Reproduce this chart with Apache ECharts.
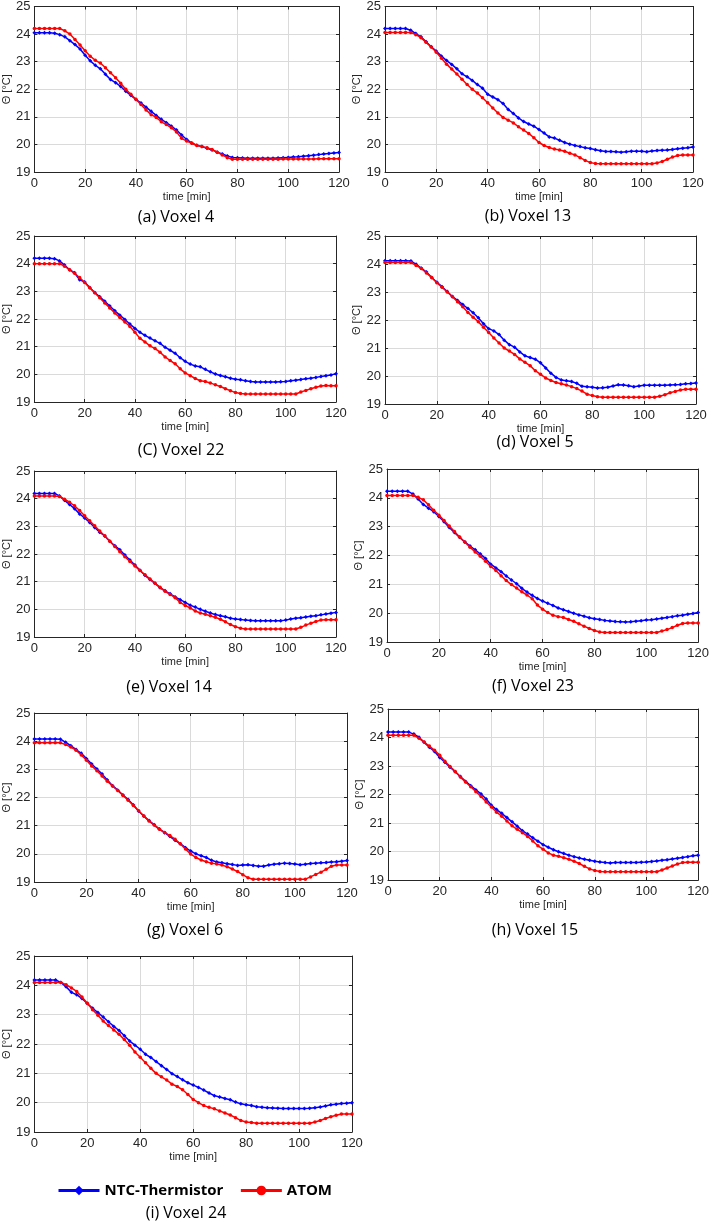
<!DOCTYPE html>
<html><head><meta charset="utf-8">
<script src="https://cdn.jsdelivr.net/npm/echarts@6/dist/echarts.min.js"></script>
<style>html,body{margin:0;padding:0;background:#fff}#c{width:712px;height:1222px}</style>
</head><body><div id="c"></div>
<script>
// ---------- DATA ----------
const time = [0,2,4,6,8,10,12,14,16,18,20,22,24,26,28,30,32,34,36,38,40,42,44,46,48,50,52,54,56,58,60,62,64,66,68,70,72,74,76,78,80,82,84,86,88,90,92,94,96,98,100,102,104,106,108,110,112,114,116,118,120];
const xTicks = [0,20,40,60,80,100,120];
const yTicks = [19,20,21,22,23,24,25];
const seriesNames = ['NTC-Thermistor','ATOM'];
const captions = ['(a) Voxel 4','(b) Voxel 13','(C) Voxel 22','(d) Voxel 5','(e) Voxel 14','(f) Voxel 23','(g) Voxel 6','(h) Voxel 15','(i) Voxel 24'];

const ntc_v4 = [24.05,24.05,24.05,24.05,24.03,23.98,23.90,23.76,23.62,23.46,
 23.23,23.03,22.87,22.74,22.54,22.35,22.24,22.10,21.93,21.78,
 21.63,21.50,21.35,21.20,21.05,20.91,20.79,20.66,20.52,20.34,
 20.18,20.05,19.97,19.92,19.86,19.80,19.72,19.65,19.58,19.53,
 19.52,19.51,19.50,19.50,19.50,19.50,19.50,19.50,19.51,19.52,
 19.53,19.54,19.55,19.57,19.59,19.61,19.63,19.65,19.67,19.69,19.71];
const atom_v4 = [24.20,24.20,24.20,24.20,24.20,24.20,24.12,24.00,23.80,23.60,
 23.40,23.20,23.05,22.95,22.78,22.60,22.42,22.22,22.00,21.82,
 21.64,21.45,21.25,21.08,20.98,20.82,20.72,20.60,20.45,20.22,
 20.12,20.04,19.96,19.92,19.88,19.82,19.72,19.62,19.52,19.46,
 19.46,19.46,19.46,19.46,19.46,19.46,19.46,19.46,19.46,19.47,
 19.47,19.47,19.47,19.47,19.47,19.47,19.48,19.48,19.48,19.48,19.48];

const ntc_v13 = [24.20,24.20,24.20,24.20,24.20,24.14,24.02,23.90,23.72,23.54,
 23.38,23.20,23.04,22.90,22.74,22.56,22.45,22.32,22.17,22.04,
 21.82,21.72,21.62,21.48,21.27,21.12,20.96,20.83,20.74,20.66,
 20.54,20.41,20.27,20.23,20.15,20.07,20.01,19.96,19.92,19.88,
 19.85,19.81,19.77,19.74,19.74,19.73,19.72,19.73,19.75,19.75,
 19.75,19.73,19.76,19.78,19.79,19.80,19.82,19.84,19.86,19.88,19.91];
const atom_v13 = [24.06,24.06,24.06,24.06,24.06,24.06,23.98,23.87,23.70,23.53,
 23.34,23.12,22.91,22.73,22.55,22.36,22.17,22.00,21.86,21.69,
 21.51,21.32,21.14,20.98,20.88,20.78,20.64,20.52,20.40,20.24,
 20.07,19.96,19.89,19.83,19.80,19.75,19.68,19.62,19.52,19.42,
 19.34,19.31,19.30,19.30,19.30,19.30,19.30,19.30,19.30,19.30,
 19.30,19.30,19.30,19.33,19.38,19.46,19.54,19.60,19.62,19.62,19.62];

const ntc_v22 = [24.20,24.20,24.20,24.20,24.18,24.10,23.95,23.78,23.67,23.42,
 23.34,23.14,22.96,22.80,22.64,22.47,22.30,22.14,21.98,21.82,
 21.66,21.52,21.41,21.31,21.21,21.12,20.98,20.87,20.76,20.60,
 20.47,20.37,20.30,20.27,20.18,20.09,20.01,19.96,19.91,19.86,
 19.82,19.80,19.77,19.74,19.72,19.72,19.72,19.72,19.72,19.73,
 19.74,19.77,19.79,19.81,19.84,19.86,19.89,19.92,19.95,19.98,20.02];
const atom_v22 = [24.00,24.00,24.00,24.00,24.00,24.00,23.91,23.78,23.65,23.50,
 23.32,23.13,22.95,22.77,22.58,22.40,22.22,22.05,21.89,21.73,
 21.52,21.30,21.17,21.03,20.93,20.80,20.63,20.50,20.38,20.20,
 20.05,19.95,19.85,19.77,19.74,19.69,19.62,19.56,19.48,19.41,
 19.34,19.31,19.29,19.29,19.29,19.29,19.29,19.29,19.29,19.29,
 19.29,19.29,19.29,19.36,19.42,19.48,19.53,19.58,19.60,19.59,19.59];

const ntc_v5 = [24.12,24.12,24.12,24.12,24.12,24.11,23.99,23.85,23.71,23.52,
 23.35,23.19,23.02,22.84,22.70,22.55,22.41,22.26,22.08,21.87,
 21.69,21.61,21.48,21.28,21.12,21.03,20.86,20.72,20.66,20.60,
 20.47,20.29,20.10,19.95,19.86,19.83,19.80,19.74,19.63,19.62,
 19.60,19.57,19.58,19.60,19.64,19.69,19.68,19.65,19.62,19.64,
 19.67,19.67,19.67,19.67,19.67,19.68,19.69,19.70,19.72,19.73,19.75];
const atom_v5 = [24.05,24.05,24.05,24.05,24.05,24.05,23.95,23.84,23.68,23.52,
 23.33,23.17,23.00,22.83,22.65,22.47,22.27,22.10,21.94,21.74,
 21.55,21.36,21.18,21.00,20.89,20.77,20.61,20.49,20.37,20.19,
 20.06,19.93,19.84,19.77,19.72,19.68,19.62,19.55,19.46,19.35,
 19.30,19.26,19.24,19.24,19.24,19.24,19.24,19.24,19.24,19.24,
 19.24,19.24,19.24,19.28,19.33,19.40,19.45,19.50,19.53,19.53,19.53];

const ntc_v14 = [24.19,24.19,24.19,24.19,24.19,24.10,23.94,23.79,23.64,23.45,
 23.30,23.14,22.96,22.79,22.65,22.46,22.30,22.15,21.96,21.78,
 21.60,21.41,21.23,21.08,20.94,20.78,20.67,20.56,20.45,20.35,
 20.25,20.15,20.08,20.00,19.93,19.87,19.81,19.77,19.73,19.68,
 19.65,19.63,19.61,19.60,19.59,19.59,19.59,19.59,19.59,19.59,
 19.61,19.65,19.68,19.70,19.72,19.75,19.77,19.80,19.83,19.86,19.89];
const atom_v14 = [24.10,24.10,24.10,24.10,24.10,24.08,23.98,23.87,23.74,23.57,
 23.38,23.20,23.02,22.83,22.66,22.46,22.27,22.08,21.90,21.73,
 21.57,21.40,21.25,21.10,20.94,20.80,20.65,20.54,20.42,20.25,
 20.14,20.05,19.94,19.87,19.82,19.77,19.71,19.64,19.55,19.45,
 19.37,19.32,19.29,19.29,19.29,19.29,19.29,19.29,19.29,19.29,
 19.29,19.29,19.29,19.35,19.43,19.50,19.56,19.61,19.62,19.62,19.62];

const ntc_v23 = [24.23,24.23,24.23,24.23,24.23,24.13,23.96,23.77,23.64,23.52,
 23.35,23.17,22.97,22.80,22.63,22.47,22.33,22.20,22.05,21.90,
 21.70,21.57,21.44,21.29,21.15,21.02,20.86,20.73,20.62,20.51,
 20.42,20.34,20.27,20.18,20.12,20.06,20.00,19.94,19.89,19.84,
 19.81,19.78,19.75,19.73,19.71,19.70,19.69,19.70,19.72,19.74,
 19.76,19.77,19.80,19.82,19.85,19.88,19.91,19.93,19.96,19.99,20.02];
const atom_v23 = [24.08,24.08,24.08,24.08,24.08,24.08,24.02,23.93,23.76,23.57,
 23.40,23.21,23.02,22.83,22.64,22.47,22.29,22.12,21.97,21.80,
 21.62,21.48,21.30,21.13,20.99,20.87,20.74,20.63,20.50,20.28,
 20.14,20.02,19.93,19.88,19.85,19.78,19.72,19.63,19.55,19.47,
 19.40,19.35,19.33,19.33,19.33,19.33,19.33,19.33,19.33,19.33,
 19.33,19.33,19.33,19.38,19.43,19.50,19.58,19.64,19.66,19.66,19.66];

const ntc_v6 = [24.08,24.08,24.08,24.08,24.08,24.07,23.96,23.84,23.70,23.57,
 23.38,23.19,23.01,22.83,22.62,22.42,22.26,22.09,21.93,21.73,
 21.52,21.34,21.18,21.03,20.88,20.75,20.62,20.48,20.36,20.22,
 20.10,20.00,19.93,19.87,19.77,19.71,19.68,19.65,19.62,19.59,
 19.60,19.61,19.59,19.56,19.56,19.60,19.63,19.65,19.67,19.66,
 19.64,19.61,19.63,19.66,19.67,19.68,19.69,19.71,19.72,19.74,19.76];
const atom_v6 = [23.94,23.94,23.94,23.94,23.94,23.94,23.88,23.79,23.68,23.51,
 23.32,23.12,22.95,22.76,22.58,22.41,22.25,22.07,21.90,21.72,
 21.53,21.34,21.17,21.02,20.87,20.76,20.65,20.52,20.36,20.17,
 19.99,19.87,19.78,19.72,19.67,19.64,19.60,19.54,19.46,19.37,
 19.26,19.15,19.10,19.10,19.10,19.10,19.10,19.10,19.10,19.10,
 19.10,19.10,19.10,19.18,19.27,19.35,19.45,19.56,19.60,19.60,19.60];

const ntc_v15 = [24.19,24.19,24.19,24.19,24.19,24.12,24.01,23.83,23.66,23.51,
 23.30,23.13,22.96,22.80,22.63,22.46,22.31,22.16,22.02,21.84,
 21.62,21.47,21.34,21.19,21.04,20.89,20.73,20.61,20.48,20.36,
 20.24,20.15,20.06,19.99,19.93,19.87,19.82,19.77,19.73,19.69,
 19.66,19.63,19.61,19.60,19.61,19.61,19.61,19.61,19.61,19.62,
 19.63,19.65,19.67,19.69,19.71,19.74,19.76,19.79,19.82,19.85,19.87];
const atom_v15 = [24.08,24.08,24.08,24.08,24.08,24.08,23.97,23.84,23.70,23.55,
 23.38,23.17,22.98,22.81,22.61,22.44,22.27,22.10,21.93,21.74,
 21.56,21.38,21.24,21.07,20.90,20.78,20.66,20.53,20.37,20.20,
 20.08,19.95,19.87,19.83,19.78,19.73,19.66,19.58,19.48,19.39,
 19.33,19.30,19.29,19.29,19.29,19.29,19.29,19.29,19.29,19.29,
 19.29,19.29,19.29,19.35,19.42,19.49,19.56,19.61,19.62,19.62,19.62];

const ntc_v24 = [24.18,24.18,24.18,24.18,24.18,24.10,23.95,23.76,23.68,23.55,
 23.38,23.22,23.07,22.92,22.76,22.60,22.46,22.28,22.10,21.96,
 21.82,21.65,21.54,21.40,21.26,21.13,20.99,20.89,20.78,20.68,
 20.60,20.52,20.43,20.33,20.24,20.19,20.14,20.10,20.02,19.96,
 19.93,19.90,19.86,19.84,19.83,19.82,19.81,19.80,19.80,19.80,
 19.80,19.80,19.81,19.83,19.85,19.89,19.93,19.95,19.97,19.98,20.00];
const atom_v24 = [24.10,24.10,24.10,24.10,24.10,24.10,24.02,23.91,23.79,23.60,
 23.39,23.17,22.98,22.78,22.63,22.48,22.33,22.15,21.96,21.73,
 21.55,21.36,21.17,21.00,20.88,20.77,20.63,20.55,20.44,20.28,
 20.11,20.00,19.90,19.84,19.79,19.72,19.65,19.58,19.49,19.39,
 19.34,19.32,19.30,19.30,19.30,19.30,19.30,19.30,19.30,19.30,
 19.30,19.30,19.30,19.34,19.39,19.46,19.52,19.57,19.61,19.61,19.61];

const ntcData  = [ntc_v4, ntc_v13, ntc_v22, ntc_v5, ntc_v14, ntc_v23, ntc_v6, ntc_v15, ntc_v24];
const atomData = [atom_v4, atom_v13, atom_v22, atom_v5, atom_v14, atom_v23, atom_v6, atom_v15, atom_v24];

// ---------- LAYOUT (pixels) ----------
const layout = [
 {l:31, t:5,   w:308, h:167, cx:176, cy:217},
 {l:385,t:5,   w:308, h:167, cx:528, cy:216},
 {l:32, t:236, w:304, h:166, cx:181, cy:450},
 {l:385,t:236, w:311, h:168, cx:535, cy:442},
 {l:28, t:471, w:308, h:166, cx:169, cy:687},
 {l:387,t:469, w:317, h:173, cx:533, cy:686},
 {l:33, t:713, w:314, h:169, cx:185, cy:930},
 {l:388,t:709, w:316, h:171, cx:535, cy:930},
 {l:28, t:956, w:324, h:176, cx:186, cy:1213}
];

const axisFont = 'Liberation Sans, Arial, Helvetica, sans-serif';
const capFont = 'Open Sans, Noto Sans, sans-serif';
const frame = '#262626';
const gridCol = '#dadada';

const grid = [], xAxis = [], yAxis = [], series = [], title = [];
layout.forEach((L, i) => {
  grid.push({left:L.l, top:L.t, width:L.w, height:L.h, show:false});
  const xMin = xTicks[0], xMax = xTicks[xTicks.length-1];
  const yMin = yTicks[0], yMax = yTicks[yTicks.length-1];
  xAxis.push({gridIndex:i, type:'value', min:xMin, max:xMax, interval:xTicks[1]-xTicks[0], position:'bottom',
    name:'time [min]', nameLocation:'middle', nameGap:19,
    nameTextStyle:{fontFamily:axisFont, fontSize:11, color:frame},
    axisLine:{show:true, onZero:false, lineStyle:{color:frame, width:1}},
    axisTick:{show:true, inside:true, length:3, lineStyle:{color:frame}},
    axisLabel:{margin:5, fontSize:13, color:frame, fontFamily:axisFont},
    splitLine:{show:true, lineStyle:{color:gridCol, width:1}}});
  xAxis.push({gridIndex:i, type:'value', min:xMin, max:xMax, interval:xTicks[1]-xTicks[0], position:'top',
    axisLine:{show:true, onZero:false, lineStyle:{color:frame, width:1}},
    axisTick:{show:true, inside:true, length:3, lineStyle:{color:frame}},
    axisLabel:{show:false}, splitLine:{show:false}});
  yAxis.push({gridIndex:i, type:'value', min:yMin, max:yMax, interval:yTicks[1]-yTicks[0], position:'left',
    name:'Θ [°C]', nameLocation:'middle', nameGap:17, nameRotate:90,
    nameTextStyle:{fontFamily:axisFont, fontSize:11, color:frame},
    axisLine:{show:true, onZero:false, lineStyle:{color:frame, width:1}},
    axisTick:{show:true, inside:true, length:3, lineStyle:{color:frame}},
    axisLabel:{margin:4, fontSize:13, color:frame, fontFamily:axisFont},
    splitLine:{show:true, lineStyle:{color:gridCol, width:1}}});
  yAxis.push({gridIndex:i, type:'value', min:yMin, max:yMax, interval:yTicks[1]-yTicks[0], position:'right',
    axisLine:{show:true, onZero:false, lineStyle:{color:frame, width:1}},
    axisTick:{show:true, inside:true, length:3, lineStyle:{color:frame}},
    axisLabel:{show:false}, splitLine:{show:false}});
  series.push({type:'line', name:seriesNames[0], xAxisIndex:2*i, yAxisIndex:2*i,
    data: time.map((t,k)=>[t, ntcData[i][k]]),
    symbol:'diamond', symbolSize:4, showAllSymbol:true, color:'#0000ff',
    lineStyle:{width:1.5, color:'#0000ff'}, itemStyle:{color:'#0000ff'}, z:3});
  series.push({type:'line', name:seriesNames[1], xAxisIndex:2*i, yAxisIndex:2*i,
    data: time.map((t,k)=>[t, atomData[i][k]]),
    symbol:'circle', symbolSize:3.5, showAllSymbol:true, color:'#ff0000',
    lineStyle:{width:1.5, color:'#ff0000'}, itemStyle:{color:'#ff0000'}, z:4});
  title.push({text:captions[i], left:L.cx, top:L.cy-11, textAlign:'center', padding:0,
    textStyle:{fontFamily:capFont, fontSize:16, fontWeight:'normal', color:'#000', lineHeight:22}});
});

const chart = echarts.init(document.getElementById('c'), null, {renderer:'canvas'});
chart.setOption({
  animation:false,
  backgroundColor:'#fff',
  title, grid, xAxis, yAxis, series,
  legend:{data:seriesNames, left:57, top:1183, padding:0, itemWidth:41, itemHeight:12, itemGap:16, selectedMode:false,
    lineStyle:{width:3},
    textStyle:{fontFamily:capFont, fontSize:15, fontWeight:'bold', color:'#000'}}
});
</script></body></html>
